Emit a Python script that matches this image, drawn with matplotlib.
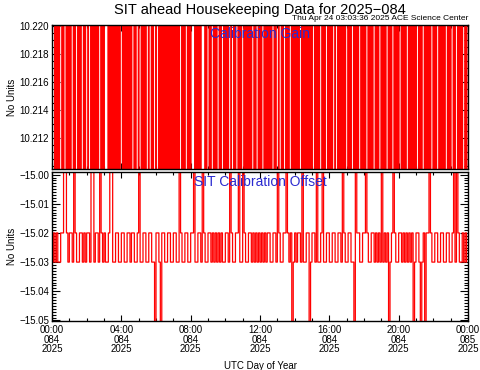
import numpy as np
import matplotlib.pyplot as plt
from matplotlib.ticker import MultipleLocator

# SIT ahead housekeeping, day 2025-084, one sample every 5 minutes
# gain: H / L  (both outside the plotted window, so only the jumps show)
gain_codes = ("HHLHLHHLHHLH" "LHHLHHLHLLHL" "LHHLHLHLHHLH" "LLLHLHLHLHLH"
              "HLHLHLHLLHLL" "HHLHLHHLLHLL" "HHLHLHLHLHLH" "LHLHLLHLHHLH"
              "LLLHLHLHHHLH" "HLHHLHLLHLLH" "LHLLHHLHHLHL" "LHLHLHLLHLLH"
              "LHHLHLHLHHLH" "HLLHLLHLHHLH" "LHLHHLHLHLHL" "HHLHLHHLHLLH"
              "LHLLHHLHLHLH" "HLHLLHLHLLHL" "HLLHLHLLHLHH" "LHLHHLHLLHLH"
              "LLHLHLLHLHLH" "LLHLHHLHLHLL" "HLHHLHLHLLHL" "HHLHHLHLHHLH")
gain_levels = {'H': 10.23, 'L': 10.20}

# offset: a=-15.02, b=-15.03, u=spike up, d=spike down
offset_codes = ("bababbaauuab" "aabuabbaabab" "aabuubaabuab" "abbauubbaabb"
                "aabbaabaabba" "ubbaabbaabbd" "aabdaabbaabb" "aabbuabbaabb"
                "aaubbaabuabb" "aabababababb" "aabuabbaaubb" "uabbaabababa"
                "bababaabbaab" "uabbaauabadb" "abaabubbaadb" "aabubbaubbaa"
                "bbaabbaabuab" "baabbduaabba" "auabbaababab" "ubabadbauabb"
                "aababababadb" "aabdbadaauab" "baabbaabbaab" "baubuabbabab")
offset_levels = {'a': -15.02, 'b': -15.03, 'u': -14.99, 'd': -15.06}

cadence_min = 5
xticks = [0, 4, 8, 12, 16, 20, 24]
xticklabels = ['00:00\n084\n2025', '04:00\n084\n2025', '08:00\n084\n2025',
               '12:00\n084\n2025', '16:00\n084\n2025', '20:00\n084\n2025',
               '00:00\n085\n2025']
gain_ticks = [10.212, 10.214, 10.216, 10.218, 10.220]
offset_ticks = [-15.05, -15.04, -15.03, -15.02, -15.01, -15.00]

gain = [gain_levels[c] for c in gain_codes]
offset = [offset_levels[c] for c in offset_codes]
t_gain = np.arange(len(gain)) * cadence_min / 60.0
t_off = np.arange(len(offset)) * cadence_min / 60.0

plt.rcParams['font.family'] = ['Liberation Sans', 'DejaVu Sans']
plt.rcParams['path.simplify'] = False
fig = plt.figure(figsize=(4.81, 3.70), dpi=100)
ax1 = fig.add_axes([52/481, 1-169/370, 416/481, 144/370])
ax2 = fig.add_axes([52/481, 1-321/370, 416/481, 149/370])

ax1.plot(t_gain, gain, color='#ff0000', lw=1.4, drawstyle='steps-post', snap=False)
ax2.plot(t_off, offset, color='#ff0000', lw=0.9, drawstyle='steps-post', snap=False)

ax1.set_ylim(10.2098, 10.2201)
ax2.set_ylim(-15.0502, -14.9991)
ax1.set_yticks(gain_ticks)
ax1.set_yticklabels(['%.3f' % v for v in gain_ticks])
ax2.set_yticks(offset_ticks)
ax2.set_yticklabels([('%.2f' % v).replace('-', '\u2212') for v in offset_ticks])
ax1.yaxis.set_minor_locator(MultipleLocator(0.0005))
ax2.yaxis.set_minor_locator(MultipleLocator(0.001))

for ax in (ax1, ax2):
    ax.set_xlim(0, 24)
    ax.set_xticks(xticks)
    ax.xaxis.set_minor_locator(MultipleLocator(1))
    ax.tick_params(axis='both', which='both', direction='in', top=True, right=True,
                   labelsize=7, width=0.8, colors='black', pad=2)
    ax.tick_params(axis='y', which='major', length=6)
    ax.tick_params(axis='y', which='minor', length=3)
    ax.tick_params(axis='x', which='major', length=4, pad=3)
    ax.tick_params(axis='x', which='minor', length=2)
    ax.set_ylabel('No Units', fontsize=7)
    for s in ax.spines.values():
        s.set_linewidth(1.0)

ax1.set_xticklabels([])
ax2.set_xticklabels(xticklabels, linespacing=0.95)
ax2.set_xlabel('UTC Day of Year', fontsize=7, labelpad=5)
ax1.yaxis.set_label_coords(-0.085, 0.5)
ax2.yaxis.set_label_coords(-0.085, 0.5)

ax1.text(0.5, 0.94, 'Calibration Gain', transform=ax1.transAxes, ha='center',
         va='center', fontsize=10, color='#2a2ad0')
ax2.text(0.5, 0.93, 'SIT Calibration Offset', transform=ax2.transAxes, ha='center',
         va='center', fontsize=10, color='#2a2ad0')

fig.text(260/481, 1-10/370, 'SIT ahead Housekeeping Data for 2025\u2212084', ha='center',
         va='center', fontsize=10.5)
fig.text(468/481, 1-19/370, 'Thu Apr 24 03:03:36 2025 ACE Science Center',
         ha='right', va='center', fontsize=6)

fig.savefig('out.png', dpi=100)
